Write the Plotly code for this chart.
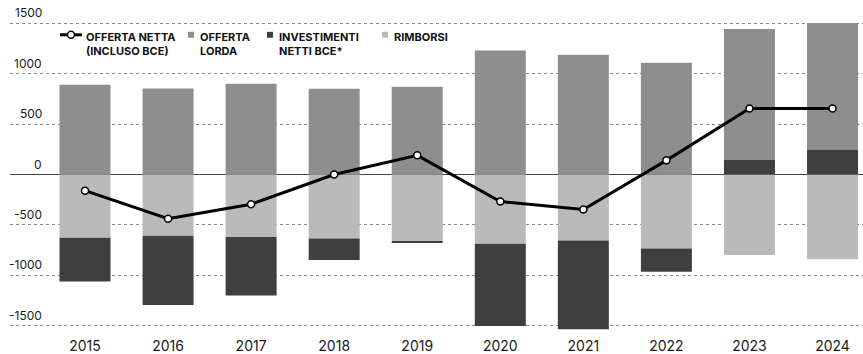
import plotly.graph_objects as go

# ---------------- data ----------------
years = ["2015", "2016", "2017", "2018", "2019", "2020", "2021", "2022", "2023", "2024"]
offerta_lorda = [890, 853, 900, 850, 870, 1229, 1186, 1108, 1297, 1252]
investimenti_bce = [-432, -686, -581, -212, -13, -814, -878, -232, 144, 248]
rimborsi = [-627, -608, -618, -634, -660, -686, -654, -732, -797, -840]
offerta_netta = [-160, -438, -294, 0, 190, -268, -346, 140, 654, 654]
y_ticks = [1500, 1000, 500, 0, -500, -1000, -1500]

# ---------------- style ----------------
C_LORDA = "#8e8e8e"
C_BCE = "#3f3f3f"
C_RIMB = "#bababa"
FONT = "Inter"
W, H = 863, 354
L, R, T, B = 10, 0, 13, 15
BAR_W = 0.614

x = list(range(len(years)))
bce_base = [0 if v > 0 else r for v, r in zip(investimenti_bce, rimborsi)]
lorda_base = [max(v, 0) for v in investimenti_bce]

fig = go.Figure()
fig.add_trace(go.Bar(x=x, y=rimborsi, base=0, width=BAR_W, marker=dict(color=C_RIMB, line_width=0),
                     name="RIMBORSI"))
fig.add_trace(go.Bar(x=x, y=offerta_lorda, base=lorda_base, width=BAR_W,
                     marker=dict(color=C_LORDA, line_width=0), name="OFFERTA LORDA"))
fig.add_trace(go.Bar(x=x, y=investimenti_bce, base=bce_base, width=BAR_W,
                     marker=dict(color=C_BCE, line_width=0), name="INVESTIMENTI NETTI BCE*"))
fig.add_trace(go.Scatter(x=x, y=offerta_netta, mode="lines+markers",
                         line=dict(color="black", width=3),
                         marker=dict(size=7, color="white", line=dict(color="black", width=1.5)),
                         name="OFFERTA NETTA (INCLUSO BCE)"))

pw, ph = W - L - R, H - T - B


def px(v):
    return (v - L) / pw


def py(v):
    return (H - B - v) / ph


annotations = []
for t in y_ticks:
    annotations.append(dict(x=px(44), xref="paper", y=t, yref="y", text=str(t), showarrow=False,
                            xanchor="right", yanchor="bottom", yshift=1,
                            font=dict(family=FONT, size=12, color="#1a1a1a")))

shapes = []
# legend: line with marker
shapes.append(dict(type="line", xref="paper", yref="paper", x0=px(60), x1=px(82), y0=py(35), y1=py(35),
                   line=dict(color="black", width=3)))
shapes.append(dict(type="circle", xref="paper", yref="paper", x0=px(67.5), x1=px(74.5), y0=py(38.5), y1=py(31.5),
                   fillcolor="white", line=dict(color="black", width=1.5)))
legend_items = [
    (None, 84, "OFFERTA NETTA<br>(INCLUSO BCE)"),
    (C_LORDA, 188, "OFFERTA<br>LORDA"),
    (C_BCE, 267, "INVESTIMENTI<br>NETTI BCE*"),
    (C_RIMB, 382, "RIMBORSI"),
]
for col, xp, txt in legend_items:
    tx = xp
    if col is not None:
        shapes.append(dict(type="rect", xref="paper", yref="paper", x0=px(xp), x1=px(xp + 6),
                           y0=py(38), y1=py(32), fillcolor=col, line_width=0))
        tx = xp + 10
    annotations.append(dict(x=px(tx), xref="paper", y=py(28), yref="paper", text=txt, showarrow=False,
                            xanchor="left", yanchor="top", align="left",
                            font=dict(family=FONT, size=11, color="#111111", weight="bold")))

fig.update_layout(
    width=W, height=H,
    margin=dict(l=L, r=R, t=T, b=B, pad=0),
    paper_bgcolor="white", plot_bgcolor="white",
    barmode="overlay", showlegend=False,
    font=dict(family=FONT, color="#1a1a1a"),
    annotations=annotations, shapes=shapes,
    xaxis=dict(range=[-0.903, 9.367], tickmode="array", tickvals=x, ticktext=years,
               showgrid=False, zeroline=False, showline=False, ticks="",
               tickfont=dict(family=FONT, size=14, color="#1a1a1a")),
    yaxis=dict(range=[-1600, 1600], tickvals=y_ticks, showticklabels=False,
               showgrid=True, gridcolor="#8a8a8a", gridwidth=1, griddash="dot",
               zeroline=True, zerolinecolor="#444444", zerolinewidth=1),
)

fig.write_html("out.html")
